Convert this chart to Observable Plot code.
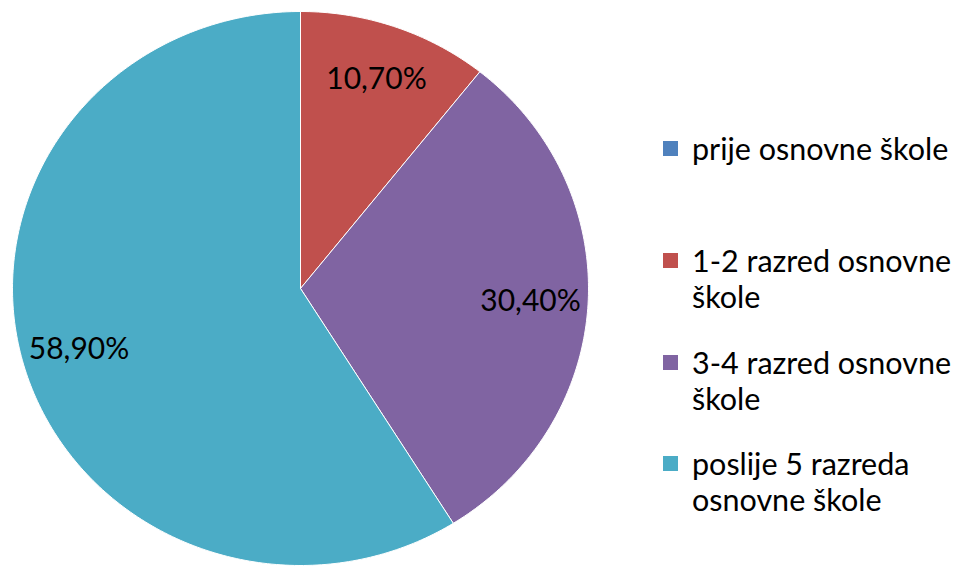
<!DOCTYPE html>
<html>
<head>
<meta charset="utf-8">
<script src="https://cdn.jsdelivr.net/npm/d3@7"></script>
<script src="https://cdn.jsdelivr.net/npm/@observablehq/plot@0.6"></script>
<style>
  html, body { margin: 0; padding: 0; background: #fff; }
  #wrap { position: relative; width: 960px; height: 566px; overflow: hidden; font-family: Lato, "Open Sans", sans-serif; }
  #wrap svg { position: absolute; left: 0; top: 0; }
  .legend-item { position: absolute; left: 663px; display: flex; align-items: flex-start; }
  .legend-item .sw { width: 15px; height: 15px; margin-top: 11px; flex: none; }
  .legend-item .lb { margin-left: 14px; width: 276px; font-size: 30.5px; line-height: 36px; color: #000; }
</style>
</head>
<body>
<div id="wrap"></div>
<script>
// ---- data ----
const categories = ["prije osnovne škole", "1-2 razred osnovne škole", "3-4 razred osnovne škole", "poslije 5 razreda osnovne škole"];
const values = [0, 10.7, 30.4, 58.9];
const labels = ["", "10,70%", "30,40%", "58,90%"];
const colors = ["#4F81BD", "#C0504D", "#8064A2", "#4BACC6"];

// ---- layout ----
const W = 960, H = 566;
const cx = 300, cy = 288, rx = 288, ry = 277;

const total = d3.sum(values);
const slices = [];
const labelPts = [];
let acc = 0;
categories.forEach((c, i) => {
  const v = values[i];
  const a0 = acc / total * 2 * Math.PI;
  acc += v;
  const a1 = acc / total * 2 * Math.PI;
  if (v <= 0) return;
  const n = Math.max(2, Math.ceil((a1 - a0) / (2 * Math.PI) * 400));
  slices.push({cat: c, u: 0, v: 0});
  for (let k = 0; k <= n; k++) {
    const a = a0 + (a1 - a0) * k / n;
    slices.push({cat: c, u: Math.sin(a), v: Math.cos(a)});
  }
  slices.push({cat: c, u: 0, v: 0});
  const am = (a0 + a1) / 2;
  labelPts.push({cat: c, text: labels[i], u: 0.8 * Math.sin(am), v: 0.8 * Math.cos(am)});
});

const chart = Plot.plot({
  width: W, height: H,
  margin: 0,
  x: {domain: [(0 - cx) / rx, (W - cx) / rx], axis: null},
  y: {domain: [(cy - H) / ry, cy / ry], axis: null},
  color: {domain: categories, range: colors},
  marks: [
    Plot.line(slices, {x: "u", y: "v", z: "cat", fill: "cat", stroke: "white", strokeWidth: 1, curve: "linear"}),
    Plot.text(labelPts, {x: "u", y: "v", text: "text", fill: "black", fontSize: 30, fontFamily: "Lato, 'Open Sans', sans-serif"})
  ]
});
const wrap = document.getElementById("wrap");
wrap.appendChild(chart);

// legend
categories.forEach((c, i) => {
  const item = document.createElement("div");
  item.className = "legend-item";
  item.style.top = (i === 0 ? 130 : 242 + (i - 1) * 101.5) + "px";
  const sw = document.createElement("div");
  sw.className = "sw";
  sw.style.background = colors[i];
  const lb = document.createElement("div");
  lb.className = "lb";
  lb.textContent = c;
  item.appendChild(sw);
  item.appendChild(lb);
  wrap.appendChild(item);
});
</script>
</body>
</html>
